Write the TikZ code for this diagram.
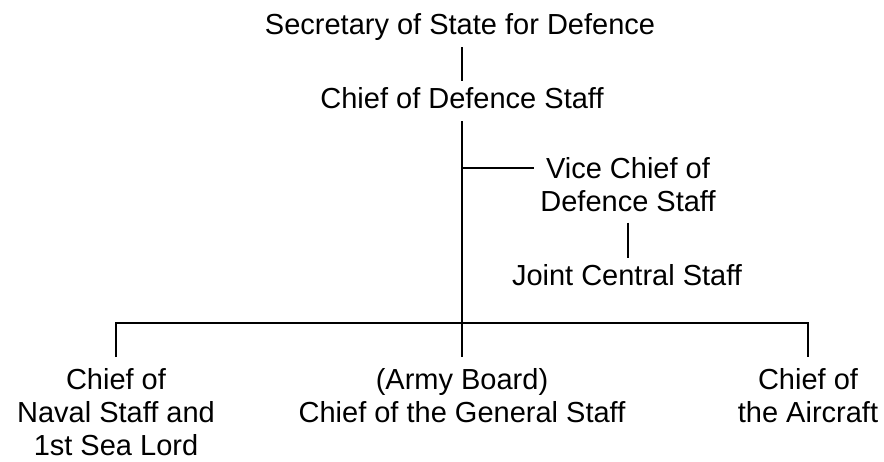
\documentclass[tikz,border=0pt]{standalone}
\usepackage{fontspec}
\setmainfont{Liberation Sans}
\usetikzlibrary{positioning}

\begin{document}
\begin{tikzpicture}[x=1pt,y=-1pt,
		title/.style={font=\fontsize{29}{33}\selectfont,inner sep=6.5pt,text height=21pt,text depth=6pt},
		unit/.style={font=\fontsize{29}{33}\selectfont,align=center,inner xsep=6pt,inner ysep=11pt,anchor=north},
		link/.style={draw=black,line width=2pt}]
		\useasboundingbox (0,0) rectangle (884,461);
		
		\node[title]  (sos)   at (460,27)   {Secretary of State for Defence};
		\node[title]  (cds)   at (462,101)  {Chief of Defence Staff};
		\node[unit]   (vcds)  at (628,146)  {Vice Chief of\\Defence Staff};
		\node[title]  (jcs)   at (627,278)  {Joint Central Staff};
		
		\node[unit]   (navy)  at (116,357)  {Chief of\\Naval Staff and\\1st Sea Lord};
		\node[unit]   (army)  at (462,357)  {(Army Board)\\Chief of the General Staff};
		\node[unit]   (air)   at (808,357)  {Chief of\\the Aircraft};
		
		\coordinate (vjoin) at (462,168);
		\coordinate (bar)   at (462,323);
		
		\draw[link] (cds.north |- sos.south) -- (cds.north);
		\draw[link] (cds.south) -- (army.north);
		\draw[link] (vjoin) -- (vjoin -| vcds.west);
		\draw[link] (vcds.south) -- (vcds.south |- jcs.north);
		\draw[link] (navy.north) |- (bar) -| (air.north);
		\end{tikzpicture}
\end{document}
